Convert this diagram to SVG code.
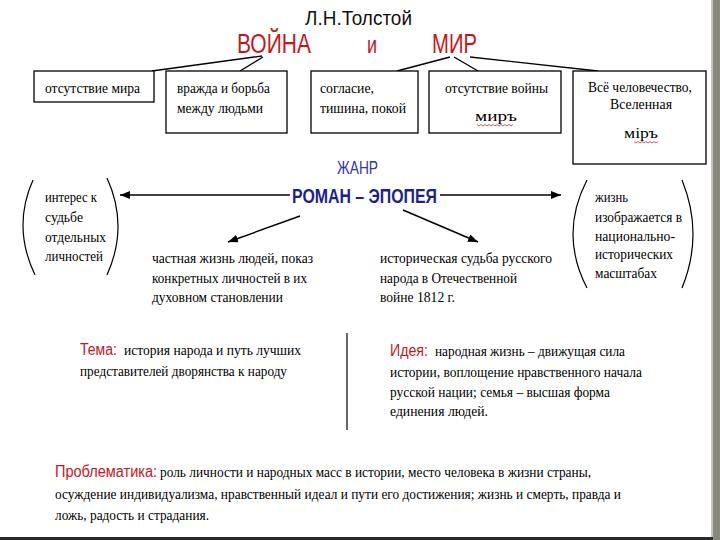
<svg xmlns="http://www.w3.org/2000/svg" width="720" height="540" viewBox="0 0 720 540">
<defs>
<style>
.t{font-family:"Liberation Serif","Times New Roman",serif;font-size:15.5px;fill:#000}
.s{font-family:"Liberation Sans",Arial,sans-serif}
.red{fill:#c4161c}
.box{fill:#fff;stroke:#000;stroke-width:1.3}
.ln{stroke:#000;stroke-width:1.4;fill:none}
.par{stroke:#000;stroke-width:1.2;fill:none}
.wave{stroke:#d03030;stroke-width:0.8;fill:none}
</style>
<marker id="ah" viewBox="0 0 10 8" refX="10" refY="4" markerWidth="10" markerHeight="8" markerUnits="userSpaceOnUse" orient="auto">
<path d="M0,0 L10,4 L0,8 z" fill="#000"/>
</marker>
</defs>
<rect width="720" height="540" fill="#fff"/>
<rect x="711" y="0" width="2" height="540" fill="#c4c4b8"/>
<rect x="713" y="0" width="7" height="540" fill="#87877a"/>
<rect x="0" y="537" width="713" height="3" fill="#2a2a2a"/>

<g id="title">
<text class="s" x="305" y="25" font-size="21" textLength="107" lengthAdjust="spacingAndGlyphs" fill="#111">Л.Н.Толстой</text>
<text class="s red" x="237" y="53" font-size="27" textLength="74" lengthAdjust="spacingAndGlyphs">ВОЙНА</text>
<text class="s red" x="367" y="53" font-size="24" textLength="10" lengthAdjust="spacingAndGlyphs">и</text>
<text class="s red" x="432" y="53" font-size="27" textLength="45" lengthAdjust="spacingAndGlyphs">МИР</text>
</g>

<g id="connectors">
<path class="ln" d="M262,56 L152,71"/>
<path class="ln" d="M263,57 L240,71"/>
<path class="ln" d="M450,57 L397,71"/>
<path class="ln" d="M454,57 L478,71"/>
<path class="ln" d="M470,57 L598,71"/>
<path class="ln" d="M290,195 L120,195" marker-end="url(#ah)"/>
<path class="ln" d="M440,195 L561,195" marker-end="url(#ah)"/>
<path class="ln" d="M300,216 L228,242" marker-end="url(#ah)"/>
<path class="ln" d="M403,210 L478,242" marker-end="url(#ah)"/>
</g>

<g id="box1">
<rect class="box" x="34" y="71" width="120" height="31"/>
<text class="t" x="45" y="93" textLength="95" lengthAdjust="spacingAndGlyphs">отсутствие мира</text>
</g>
<g id="box2">
<rect class="box" x="166" y="71" width="121" height="62"/>
<text class="t" x="177" y="93" textLength="93" lengthAdjust="spacingAndGlyphs">вражда и борьба</text>
<text class="t" x="177" y="113" textLength="86" lengthAdjust="spacingAndGlyphs">между людьми</text>
</g>
<g id="box3">
<rect class="box" x="311" y="71" width="107" height="62"/>
<text class="t" x="320" y="93" textLength="54" lengthAdjust="spacingAndGlyphs">согласие,</text>
<text class="t" x="320" y="113" textLength="86" lengthAdjust="spacingAndGlyphs">тишина, покой</text>
</g>
<g id="box4">
<rect class="box" x="429" y="71" width="132" height="62"/>
<text class="t" x="445" y="93" textLength="103" lengthAdjust="spacingAndGlyphs">отсутствие войны</text>
<text class="t" x="475" y="121" font-size="25" textLength="42" lengthAdjust="spacingAndGlyphs">миръ</text>
<path class="wave" d="M477,124.5 l2,1.5 l2,-1.5 l2,1.5 l2,-1.5 l2,1.5 l2,-1.5 l2,1.5 l2,-1.5 l2,1.5 l2,-1.5 l2,1.5 l2,-1.5 l2,1.5 l2,-1.5 l2,1.5 l2,-1.5 l2,1.5 l2,-1.5"/>
</g>
<g id="box5">
<rect class="box" x="573" y="71" width="133" height="93"/>
<text class="t" x="588" y="92" textLength="104" lengthAdjust="spacingAndGlyphs">Всё человечество,</text>
<text class="t" x="610" y="109" textLength="62" lengthAdjust="spacingAndGlyphs">Вселенная</text>
<text class="t" x="624" y="138" font-size="25" textLength="34" lengthAdjust="spacingAndGlyphs">міръ</text>
<path class="wave" d="M634,141.5 l2,1.5 l2,-1.5 l2,1.5 l2,-1.5 l2,1.5 l2,-1.5 l2,1.5 l2,-1.5 l2,1.5 l2,-1.5 l2,1.5 l2,-1.5"/>
</g>

<g id="genre">
<text class="s" x="337" y="174" font-size="18" textLength="41" lengthAdjust="spacingAndGlyphs" fill="#3535a8">ЖАНР</text>
<text class="s" x="292" y="203" font-size="20" font-weight="bold" textLength="145" lengthAdjust="spacingAndGlyphs" fill="#1e1e8e">РОМАН – ЭПОПЕЯ</text>
</g>

<g id="left-note">
<path class="par" d="M33,180 Q12,227 35,275"/>
<path class="par" d="M107,178 Q129,226 107,275"/>
<text class="t" x="45" y="202" textLength="52" lengthAdjust="spacingAndGlyphs">интерес к</text>
<text class="t" x="45" y="222" textLength="38" lengthAdjust="spacingAndGlyphs">судьбе</text>
<text class="t" x="45" y="242" textLength="61" lengthAdjust="spacingAndGlyphs">отдельных</text>
<text class="t" x="45" y="261" textLength="58" lengthAdjust="spacingAndGlyphs">личностей</text>
</g>

<g id="right-note">
<path class="par" d="M587,180 Q559,234 587,288"/>
<path class="par" d="M682,180 Q704,234 682,288"/>
<text class="t" x="595" y="202" textLength="33" lengthAdjust="spacingAndGlyphs">жизнь</text>
<text class="t" x="595" y="222" textLength="87" lengthAdjust="spacingAndGlyphs">изображается в</text>
<text class="t" x="595" y="241" textLength="80" lengthAdjust="spacingAndGlyphs">национально-</text>
<text class="t" x="595" y="259" textLength="78" lengthAdjust="spacingAndGlyphs">исторических</text>
<text class="t" x="595" y="278" textLength="62" lengthAdjust="spacingAndGlyphs">масштабах</text>
</g>

<g id="private-life">
<text class="t" x="152" y="263" textLength="161" lengthAdjust="spacingAndGlyphs">частная жизнь людей, показ</text>
<text class="t" x="152" y="283" textLength="155" lengthAdjust="spacingAndGlyphs">конкретных личностей в их</text>
<text class="t" x="152" y="302" textLength="131" lengthAdjust="spacingAndGlyphs">духовном становлении</text>
</g>

<g id="history">
<text class="t" x="380" y="263" textLength="172" lengthAdjust="spacingAndGlyphs">историческая судьба русского</text>
<text class="t" x="380" y="283" textLength="137" lengthAdjust="spacingAndGlyphs">народа в Отечественной</text>
<text class="t" x="380" y="302" textLength="75" lengthAdjust="spacingAndGlyphs">войне 1812 г.</text>
</g>

<g id="theme">
<text class="s red" x="80" y="355" font-size="16" textLength="37" lengthAdjust="spacingAndGlyphs">Тема:</text>
<text class="t" x="124" y="355" textLength="177" lengthAdjust="spacingAndGlyphs">история народа и путь лучших</text>
<text class="t" x="80" y="376" textLength="207" lengthAdjust="spacingAndGlyphs">представителей дворянства к народу</text>
</g>

<path d="M347,333 L347,430" stroke="#000" stroke-width="1.2"/>

<g id="idea">
<text class="s red" x="390" y="356" font-size="16" textLength="38" lengthAdjust="spacingAndGlyphs">Идея:</text>
<text class="t" x="435" y="356" textLength="190" lengthAdjust="spacingAndGlyphs">народная жизнь – движущая сила</text>
<text class="t" x="390" y="377" textLength="252" lengthAdjust="spacingAndGlyphs">истории, воплощение нравственного начала</text>
<text class="t" x="390" y="397" textLength="220" lengthAdjust="spacingAndGlyphs">русской нации; семья – высшая форма</text>
<text class="t" x="390" y="416" textLength="98" lengthAdjust="spacingAndGlyphs">единения людей.</text>
</g>

<g id="problems">
<text class="s red" x="55" y="477" font-size="16" textLength="102" lengthAdjust="spacingAndGlyphs">Проблематика:</text>
<text class="t" x="160" y="477" textLength="431" lengthAdjust="spacingAndGlyphs">роль личности и народных масс в истории, место человека в жизни страны,</text>
<text class="t" x="55" y="499" textLength="566" lengthAdjust="spacingAndGlyphs">осуждение индивидуализма, нравственный идеал и пути его достижения; жизнь и смерть, правда и</text>
<text class="t" x="55" y="520" textLength="154" lengthAdjust="spacingAndGlyphs">ложь, радость и страдания.</text>
</g>
</svg>
